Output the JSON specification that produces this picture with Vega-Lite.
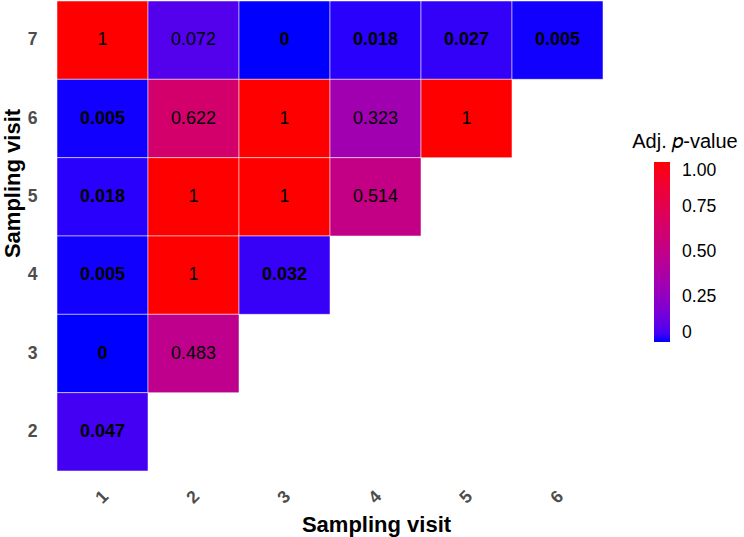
{
  "$schema": "https://vega.github.io/schema/vega-lite/v6.json",
  "width": 546,
  "height": 470,
  "autosize": {"type": "none"},
  "padding": {"left": 57, "top": 1, "right": 141, "bottom": 66},
  "background": "white",
  "config": {"font": "Liberation Sans", "view": {"stroke": null}},
  "data": {
    "values": [
      {"x": "1", "y": "7", "p": 1, "label": "1"},
      {"x": "2", "y": "7", "p": 0.072, "label": "0.072"},
      {"x": "3", "y": "7", "p": 0, "label": "0"},
      {"x": "4", "y": "7", "p": 0.018, "label": "0.018"},
      {"x": "5", "y": "7", "p": 0.027, "label": "0.027"},
      {"x": "6", "y": "7", "p": 0.005, "label": "0.005"},
      {"x": "1", "y": "6", "p": 0.005, "label": "0.005"},
      {"x": "2", "y": "6", "p": 0.622, "label": "0.622"},
      {"x": "3", "y": "6", "p": 1, "label": "1"},
      {"x": "4", "y": "6", "p": 0.323, "label": "0.323"},
      {"x": "5", "y": "6", "p": 1, "label": "1"},
      {"x": "1", "y": "5", "p": 0.018, "label": "0.018"},
      {"x": "2", "y": "5", "p": 1, "label": "1"},
      {"x": "3", "y": "5", "p": 1, "label": "1"},
      {"x": "4", "y": "5", "p": 0.514, "label": "0.514"},
      {"x": "1", "y": "4", "p": 0.005, "label": "0.005"},
      {"x": "2", "y": "4", "p": 1, "label": "1"},
      {"x": "3", "y": "4", "p": 0.032, "label": "0.032"},
      {"x": "1", "y": "3", "p": 0, "label": "0"},
      {"x": "2", "y": "3", "p": 0.483, "label": "0.483"},
      {"x": "1", "y": "2", "p": 0.047, "label": "0.047"}
    ]
  },
  "encoding": {
    "x": {
      "field": "x", "type": "ordinal",
      "scale": {"domain": ["1", "2", "3", "4", "5", "6"], "paddingInner": 0, "paddingOuter": 0},
      "axis": {
        "title": "Sampling visit", "titleFontSize": 22, "titleFontWeight": "bold", "titleColor": "black",
        "titleX": 319, "titleY": 60, "titleBaseline": "alphabetic", "titleAlign": "center", "titleAnchor": null,
        "labelAngle": -45, "labelAlign": "center", "labelBaseline": "middle", "labelPadding": 26,
        "labelFontSize": 17.6, "labelFontWeight": "bold", "labelColor": "#4d4d4d",
        "ticks": false, "tickSize": 0, "domain": false, "grid": false
      }
    },
    "y": {
      "field": "y", "type": "ordinal",
      "scale": {"domain": ["7", "6", "5", "4", "3", "2"], "paddingInner": 0, "paddingOuter": 0},
      "axis": {
        "title": "Sampling visit", "titleFontSize": 22, "titleFontWeight": "bold", "titleColor": "black",
        "titleX": -38, "titleY": 182, "titleBaseline": "alphabetic", "titleAlign": "center", "titleAngle": -90,
        "labelAngle": 0, "labelPadding": 20,
        "labelFontSize": 17.6, "labelFontWeight": "bold", "labelColor": "#4d4d4d",
        "ticks": false, "tickSize": 0, "domain": false, "grid": false
      }
    }
  },
  "layer": [
    {
      "mark": {"type": "rect", "stroke": "white", "strokeWidth": 1, "strokeOpacity": 0.5},
      "encoding": {
        "color": {
          "field": "p", "type": "quantitative",
          "scale": {"domain": [0, 1], "range": ["blue", "red"], "interpolate": "lab"},
          "legend": {
            "title": "Adj. 𝑝-value", "orient": "none", "legendX": 575, "legendY": 131,
            "gradientLength": 180, "gradientThickness": 16, "gradientStrokeWidth": 0,
            "titleFontSize": 20, "titleFontWeight": "normal", "titleColor": "black",
            "titleAnchor": "middle", "titleAlign": "center", "titlePadding": 10,
            "labelFontSize": 17.6, "labelColor": "black", "labelOffset": 12, "labelBaseline": "middle",
            "labelOverlap": false, "values": [0, 0.25, 0.5, 0.75, 1],
            "labelExpr": "datum.value == 0 ? '0' : format(datum.value, '.2f')"
          }
        }
      }
    },
    {
      "transform": [{"filter": "datum.p < 0.05"}],
      "mark": {"type": "text", "fontSize": 18, "fontWeight": "bold", "color": "black"},
      "encoding": {"text": {"field": "label", "type": "nominal"}}
    },
    {
      "transform": [{"filter": "datum.p >= 0.05"}],
      "mark": {"type": "text", "fontSize": 18, "color": "black"},
      "encoding": {"text": {"field": "label", "type": "nominal"}}
    }
  ]
}
